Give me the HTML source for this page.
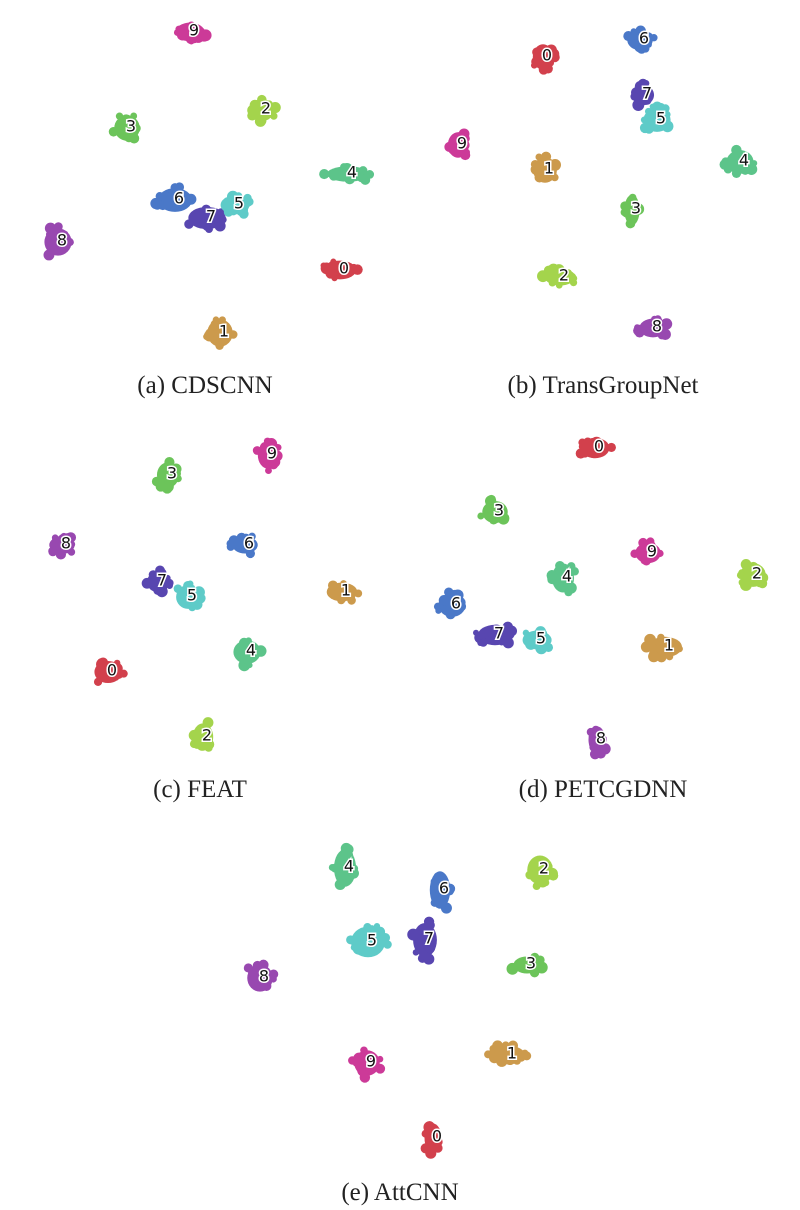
<!DOCTYPE html>
<html><head><meta charset="utf-8"><style>
html,body{margin:0;padding:0;background:#fff;width:800px;height:1210px;overflow:hidden}
svg text.l{font-family:"DejaVu Sans","Liberation Sans",sans-serif;font-size:16px;fill:#111;stroke:#fff;stroke-width:3px;paint-order:stroke;text-anchor:middle;dominant-baseline:central}
svg text.c{font-family:"Liberation Serif",serif;font-size:25px;fill:#222;text-anchor:middle}
</style></head><body>
<svg width="800" height="1210" viewBox="0 0 800 1210" xmlns="http://www.w3.org/2000/svg">
<defs>
<g id="b"><ellipse cx="0" cy="0" rx="1" ry="1"/></g>
</defs>
<g id="clusters"></g>
<script>
var C={0:"#d2404c",1:"#cc9a4c",2:"#a4d44c",3:"#6cc45a",4:"#5cc48a",5:"#5ecbc8",6:"#4a78c8",7:"#5846b0",8:"#9848b0",9:"#cc3a98"};
// label, x, y, rx, ry
var D=[
[9,190,32,17,11],[2,262,110,14,13],[3,127,128,15,15],[4,348,174,25,9],[6,175,200,20,14],[7,207,218,22,13],[5,235,205,17,11],[8,58,242,16,16],[0,340,270,19,11],[1,220,333,15,16],
[0,543,57,12,15],[6,640,40,15,12],[7,643,95,13,12],[5,657,120,16,14],[9,458,145,12,15],[1,545,170,14,15],[4,740,162,16,14],[3,632,210,9,18],[2,560,277,18,10],[8,653,328,16,11],
[3,168,475,13,15],[9,268,455,12,16],[8,62,545,15,10],[6,245,545,15,10],[7,158,582,13,12],[5,188,597,14,14],[1,342,592,18,11],[4,247,652,16,14],[0,108,672,16,13],[2,203,737,12,16],
[0,595,448,17,12],[3,495,512,15,13],[9,648,553,15,12],[4,563,578,13,17],[2,753,575,15,14],[6,452,605,16,14],[7,495,635,20,12],[5,537,640,17,11],[1,665,647,20,12],[8,597,740,10,16],
[4,345,868,13,22],[2,540,870,15,17],[6,440,890,12,22],[7,425,940,14,20],[5,368,942,20,18],[3,527,965,16,10],[8,260,978,15,16],[1,508,1055,20,11],[9,367,1063,15,15],[0,433,1138,10,17]];
var ns="http://www.w3.org/2000/svg",g=document.getElementById("clusters");
function el(t,a){var e=document.createElementNS(ns,t);for(var k in a)e.setAttribute(k,a[k]);return e;}
var seed=7;function r(){seed=(seed*9301+49297)%233280;return seed/233280;}
D.forEach(function(d){var c=C[d[0]];
 g.appendChild(el("ellipse",{cx:d[1],cy:d[2],rx:d[3]*0.85,ry:d[4]*0.85,fill:c}));
 for(var i=0;i<14;i++){var a=r()*6.283,m=Math.sqrt(r());
  g.appendChild(el("circle",{cx:d[1]+Math.cos(a)*d[3]*m,cy:d[2]+Math.sin(a)*d[4]*m,r:3+r()*3,fill:c}));}
});
D.forEach(function(d){var t=el("text",{x:d[1]+4,y:d[2]-2,"class":"l"});t.textContent=d[0];g.appendChild(t);});
</script>
<text class="c" x="205" y="393">(a) CDSCNN</text>
<text class="c" x="603" y="393">(b) TransGroupNet</text>
<text class="c" x="200" y="797">(c) FEAT</text>
<text class="c" x="603" y="797">(d) PETCGDNN</text>
<text class="c" x="400" y="1200">(e) AttCNN</text>
</svg>
</body></html>
